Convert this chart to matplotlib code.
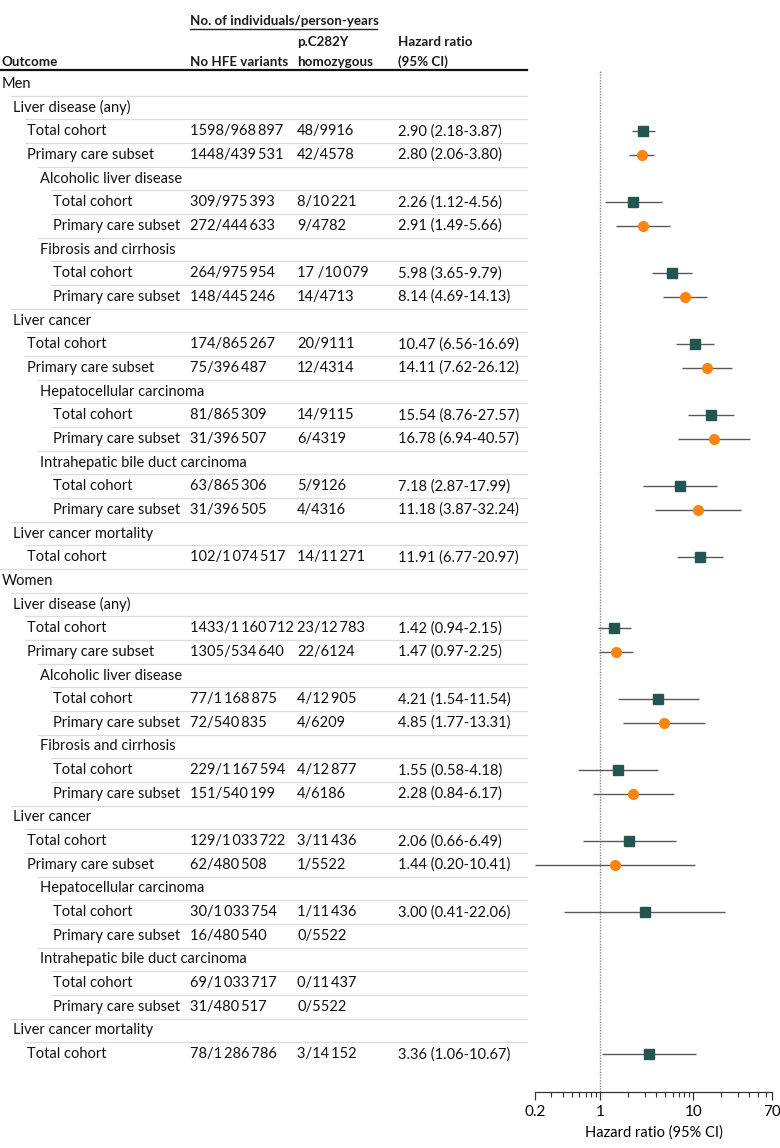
import matplotlib
matplotlib.use("Agg")
import matplotlib.pyplot as plt
from matplotlib.ticker import FixedLocator, NullFormatter

plt.rcParams['font.family'] = ['Lato', 'DejaVu Sans']
plt.rcParams['font.size'] = 10.5

T = "\u2009"  # thin space used in the big numbers

# ---- data, one entry per table row ----
labels = [
    "Men",
    "Liver disease (any)", "Total cohort", "Primary care subset",
    "Alcoholic liver disease", "Total cohort", "Primary care subset",
    "Fibrosis and cirrhosis", "Total cohort", "Primary care subset",
    "Liver cancer", "Total cohort", "Primary care subset",
    "Hepatocellular carcinoma", "Total cohort", "Primary care subset",
    "Intrahepatic bile duct carcinoma", "Total cohort", "Primary care subset",
    "Liver cancer mortality", "Total cohort",
    "Women",
    "Liver disease (any)", "Total cohort", "Primary care subset",
    "Alcoholic liver disease", "Total cohort", "Primary care subset",
    "Fibrosis and cirrhosis", "Total cohort", "Primary care subset",
    "Liver cancer", "Total cohort", "Primary care subset",
    "Hepatocellular carcinoma", "Total cohort", "Primary care subset",
    "Intrahepatic bile duct carcinoma", "Total cohort", "Primary care subset",
    "Liver cancer mortality", "Total cohort",
]
levels = [0, 1, 2, 2, 3, 4, 4, 3, 4, 4, 1, 2, 2, 3, 4, 4, 3, 4, 4, 1, 2,
          0, 1, 2, 2, 3, 4, 4, 3, 4, 4, 1, 2, 2, 3, 4, 4, 3, 4, 4, 1, 2]

n_no_hfe = [
    "", "", "1598/968"+T+"897", "1448/439"+T+"531",
    "", "309/975"+T+"393", "272/444"+T+"633",
    "", "264/975"+T+"954", "148/445"+T+"246",
    "", "174/865"+T+"267", "75/396"+T+"487",
    "", "81/865"+T+"309", "31/396"+T+"507",
    "", "63/865"+T+"306", "31/396"+T+"505",
    "", "102/1"+T+"074"+T+"517",
    "", "", "1433/1"+T+"160"+T+"712", "1305/534"+T+"640",
    "", "77/1"+T+"168"+T+"875", "72/540"+T+"835",
    "", "229/1"+T+"167"+T+"594", "151/540"+T+"199",
    "", "129/1"+T+"033"+T+"722", "62/480"+T+"508",
    "", "30/1"+T+"033"+T+"754", "16/480"+T+"540",
    "", "69/1"+T+"033"+T+"717", "31/480"+T+"517",
    "", "78/1"+T+"286"+T+"786",
]
n_c282y = [
    "", "", "48/9916", "42/4578",
    "", "8/10"+T+"221", "9/4782",
    "", "17 /10"+T+"079", "14/4713",
    "", "20/9111", "12/4314",
    "", "14/9115", "6/4319",
    "", "5/9126", "4/4316",
    "", "14/11"+T+"271",
    "", "", "23/12"+T+"783", "22/6124",
    "", "4/12"+T+"905", "4/6209",
    "", "4/12"+T+"877", "4/6186",
    "", "3/11"+T+"436", "1/5522",
    "", "1/11"+T+"436", "0/5522",
    "", "0/11"+T+"437", "0/5522",
    "", "3/14"+T+"152",
]
hr = [None, None, 2.90, 2.80, None, 2.26, 2.91, None, 5.98, 8.14,
      None, 10.47, 14.11, None, 15.54, 16.78, None, 7.18, 11.18, None, 11.91,
      None, None, 1.42, 1.47, None, 4.21, 4.85, None, 1.55, 2.28,
      None, 2.06, 1.44, None, 3.00, None, None, None, None, None, 3.36]
ci_lo = [None, None, 2.18, 2.06, None, 1.12, 1.49, None, 3.65, 4.69,
         None, 6.56, 7.62, None, 8.76, 6.94, None, 2.87, 3.87, None, 6.77,
         None, None, 0.94, 0.97, None, 1.54, 1.77, None, 0.58, 0.84,
         None, 0.66, 0.20, None, 0.41, None, None, None, None, None, 1.06]
ci_hi = [None, None, 3.87, 3.80, None, 4.56, 5.66, None, 9.79, 14.13,
         None, 16.69, 26.12, None, 27.57, 40.57, None, 17.99, 32.24, None, 20.97,
         None, None, 2.15, 2.25, None, 11.54, 13.31, None, 4.18, 6.17,
         None, 6.49, 10.41, None, 22.06, None, None, None, None, None, 10.67]

# ---- layout (pixels of a 780x1148 figure) ----
W, H = 780, 1148
ROW0, DY = 84, 23.66
TOP, BOT = 70, 1092
AX_L, AX_R = 535, 772
indent = [2, 13, 27, 40, 53]
col_x = [190, 297, 398]

def row(px):
    return (px - ROW0) / DY

ylims = (row(BOT), row(TOP))
b = (H - BOT) / H
h = (BOT - TOP) / H

fig = plt.figure(figsize=(W / 100, H / 100), dpi=100)

tab = fig.add_axes([0, b, AX_L / W, h])
tab.set_xlim(0, AX_L)
tab.set_ylim(*ylims)
tab.axis('off')

ax = fig.add_axes([AX_L / W, b, (AX_R - AX_L) / W, h])
ax.set_xscale('log')
ax.set_xlim(0.2, 70)
ax.set_ylim(*ylims)

# header
hk = dict(fontweight='bold', fontsize=9.6, va='center', ha='left',
          clip_on=False, color='#1a1a1a')
tab.text(col_x[0], row(21), "No. of individuals/person-years", **hk)
tab.plot([col_x[0], 377], [row(29.5), row(29.5)], color='#222222', lw=1, clip_on=False)
tab.text(indent[0], row(62), "Outcome", **hk)
tab.text(col_x[0], row(62), "No HFE variants", **hk)
tab.text(col_x[1], row(42), "p.C282Y", **hk)
tab.text(col_x[1], row(62), "homozygous", **hk)
tab.text(col_x[2], row(42), "Hazard ratio", **hk)
tab.text(col_x[2], row(62), "(95% CI)", **hk)
tab.plot([0, 527], [row(TOP), row(TOP)], color='#111111', lw=1.6, clip_on=False)

# table rows
for i, lab in enumerate(labels):
    lv = levels[i]
    tab.text(indent[lv], i, lab, va='center', ha='left', color='#111111')
    tab.text(col_x[0], i, n_no_hfe[i], va='center', ha='left', color='#111111')
    tab.text(col_x[1], i, n_c282y[i], va='center', ha='left', color='#111111')
    if hr[i] is not None:
        tab.text(col_x[2], i, f"{hr[i]:.2f} ({ci_lo[i]:.2f}-{ci_hi[i]:.2f})",
                 va='center', ha='left', color='#111111')
    if i > 0:
        tab.plot([indent[lv] - 2, 527], [i - 0.5, i - 0.5], color='#dcdcdc', lw=0.9)

# forest plot
ax.axvline(1, color='#8a8a8a', lw=1, ls=(0, (1, 1)), zorder=1)
for i, v in enumerate(hr):
    if v is None:
        continue
    ax.plot([ci_lo[i], ci_hi[i]], [i, i], color='#5a5a5a', lw=1, zorder=2,
            solid_capstyle='butt')
    if labels[i] == "Total cohort":
        ax.plot(v, i, marker='s', ms=6.5, color='#245651', mec='#245651', zorder=3)
    else:
        ax.plot(v, i, marker='o', ms=7, color='#ff8412', mec='#ff8412', zorder=3)

for s in ['top', 'right', 'left']:
    ax.spines[s].set_visible(False)
ax.spines['bottom'].set_color('#333333')
ax.spines['bottom'].set_linewidth(0.9)
ax.set_yticks([])
ax.xaxis.set_major_locator(FixedLocator([0.2, 1, 10, 70]))
ax.set_xticklabels(["0.2", "1", "10", "70"])
ax.xaxis.set_minor_locator(FixedLocator([0.3, 0.4, 0.5, 0.6, 0.7, 0.8, 0.9,
                                         2, 3, 4, 5, 6, 7, 8, 9,
                                         20, 30, 40, 50, 60]))
ax.xaxis.set_minor_formatter(NullFormatter())
ax.tick_params(axis='x', which='major', length=6, width=0.9, color='#333333',
               labelsize=11, pad=3)
ax.tick_params(axis='x', which='minor', length=3.5, width=0.8, color='#333333')
ax.set_xlabel("Hazard ratio (95% CI)", fontsize=10.5, labelpad=5)

fig.savefig("out.png", dpi=100)
